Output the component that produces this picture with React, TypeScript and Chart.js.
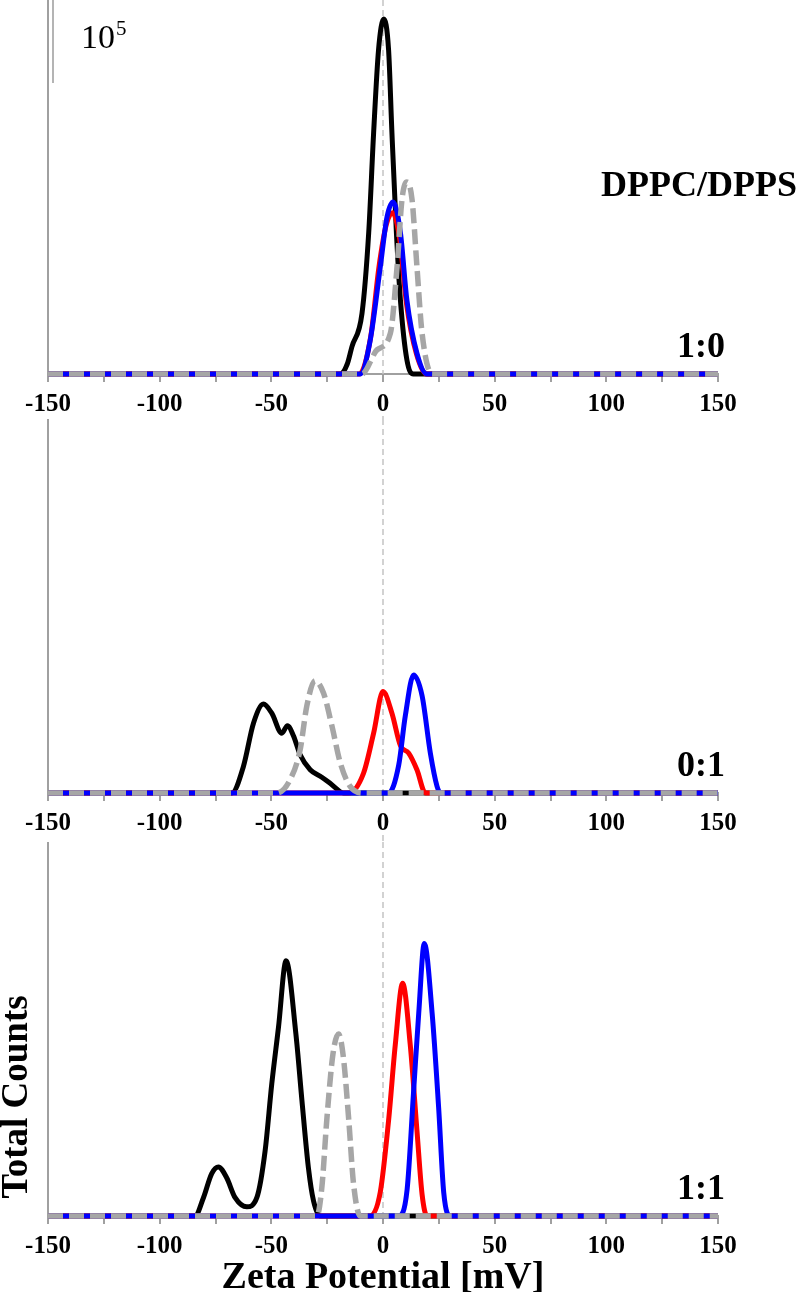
import React, { useEffect, useRef } from 'react';
import { Chart, registerables } from 'chart.js';

Chart.register(...registerables);

type Pt = [number, number];

// Zeta potential (mV) vs total counts (x10^5)
const p1Black: Pt[] = [[-150,0],[-19.1,0],[-16,0.12],[-13.9,0.33],[-9.4,0.73],[-6.4,1.70],[-4.2,2.90],[-2.0,3.90],[0.3,4.27],[2.5,3.90],[4.0,2.90],[6.0,1.70],[7.8,0.89],[10.7,0.17],[13.6,0],[150,0]];
const p1Red: Pt[] = [[-150,0],[-10.5,0],[-5.5,0.45],[-1.8,1.29],[1.5,1.80],[4.3,1.94],[7.5,1.62],[10.5,0.85],[15,0.24],[19.5,0],[150,0]];
const p1Blue: Pt[] = [[-150,0],[-10.2,0],[-5.7,0.41],[-1.2,1.29],[1.8,1.89],[4.5,2.07],[7.8,1.70],[10.7,0.89],[15.2,0.25],[19.7,0],[150,0]];
const p1Gray: Pt[] = [[-150,0],[-9.4,0],[-2.7,0.29],[3.3,0.49],[6.3,1.29],[8.5,2.10],[10.7,2.31],[13,2.10],[15.2,1.29],[17.5,0.49],[22,0],[150,0]];

const p2Black: Pt[] = [[-150,0],[-67.7,0],[-62.5,0.32],[-58,0.84],[-53.5,1.07],[-49.8,0.96],[-45.3,0.72],[-42.8,0.81],[-40.1,0.69],[-37.1,0.46],[-32.6,0.28],[-27.4,0.19],[-22.9,0.10],[-17.7,0],[150,0]];
const p2Red: Pt[] = [[-150,0],[-15.4,0],[-8.7,0.24],[-4.2,0.72],[0,1.22],[4.0,0.96],[7.8,0.57],[11.5,0.48],[15.2,0.28],[19,0],[150,0]];
const p2Blue: Pt[] = [[-150,0],[2.5,0],[7,0.33],[10,0.93],[13.7,1.42],[17.5,1.17],[21.2,0.48],[24.2,0.08],[25.7,0],[150,0]];
const p2Gray: Pt[] = [[-150,0],[-47.5,0],[-41.6,0.16],[-37.1,0.52],[-34.1,1.05],[-30.4,1.35],[-26.6,1.20],[-22.9,0.81],[-19.1,0.36],[-14.7,0.08],[-8.7,0],[150,0]];

const p3Black: Pt[] = [[-150,0],[-84.2,0],[-80.4,0.22],[-76.7,0.51],[-73.7,0.59],[-70,0.46],[-66.2,0.22],[-61,0.11],[-56.5,0.22],[-52.8,0.78],[-49.8,1.59],[-46.8,2.27],[-43.4,3.07],[-39,2.19],[-36.3,1.39],[-33.4,0.58],[-31.1,0.18],[-28.1,0],[150,0]];
const p3Red: Pt[] = [[-150,0],[-5.7,0],[-1.2,0.29],[2.5,1.15],[5.5,2.06],[8.8,2.80],[12.2,2.06],[15.2,1.03],[17.5,0.26],[19.7,0],[150,0]];
const p3Blue: Pt[] = [[-150,0],[7,0],[10.8,0.32],[13.7,1.50],[16,2.44],[18.5,3.28],[22,2.44],[24.9,1.31],[27.2,0.28],[30.2,0],[150,0]];
const p3Gray: Pt[] = [[-150,0],[-29.6,0],[-27.4,0.34],[-25.1,1.18],[-22.4,1.95],[-19.9,2.19],[-17.7,1.90],[-15.4,1.18],[-13.2,0.39],[-10.2,0],[150,0]];

const panelLabels = ['1:0', '0:1', '1:1'];
const xMin = -150;
const xMax = 150;
const xStep = 25;
const xLabelStep = 50;
const yMax = 4.5;
const scaleBarValue = 1; // 10^5 counts

const FONT = "'Liberation Serif', 'Times New Roman', serif";
const AXIS_GRAY = '#a0a0a0';

interface PanelCfg {
  series: Pt[][];
  label: string;
  top: number;
  height: number;
  xScaleH: number;
  first: boolean;
  last: boolean;
}

const panels: PanelCfg[] = [
  { series: [p1Black, p1Red, p1Blue, p1Gray], label: panelLabels[0], top: 0, height: 419, xScaleH: 45, first: true, last: false },
  { series: [p2Black, p2Red, p2Blue, p2Gray], label: panelLabels[1], top: 419, height: 423, xScaleH: 49, first: false, last: false },
  { series: [p3Black, p3Red, p3Blue, p3Gray], label: panelLabels[2], top: 842, height: 450, xScaleH: 76, first: false, last: true },
];

function makeOverlay(cfg: PanelCfg) {
  return {
    id: 'overlay',
    beforeDatasetsDraw(chart: any) {
      const { ctx, chartArea, scales } = chart;
      const x0 = scales.x.getPixelForValue(0);
      ctx.save();
      ctx.strokeStyle = '#c4c4c4';
      ctx.lineWidth = 1.5;
      ctx.setLineDash([6, 4]);
      ctx.beginPath();
      ctx.moveTo(x0, 0);
      ctx.lineTo(x0, chartArea.bottom);
      if (!cfg.last) {
        ctx.moveTo(x0, chartArea.bottom + 42);
        ctx.lineTo(x0, chart.height);
      }
      ctx.stroke();
      ctx.restore();
    },
    afterDatasetsDraw(chart: any) {
      const { ctx, chartArea, scales } = chart;
      ctx.save();
      ctx.fillStyle = '#000';
      ctx.textAlign = 'right';
      ctx.textBaseline = 'alphabetic';
      ctx.font = `bold 36px ${FONT}`;
      ctx.fillText(cfg.label, 725, chartArea.bottom - 17);
      if (cfg.first) {
        ctx.fillText('DPPC/DPPS', 797, 196);
        // scale bar (10^5 counts)
        const yTop = scales.y.getPixelForValue(yMax);
        const yBot = scales.y.getPixelForValue(yMax - scaleBarValue);
        ctx.strokeStyle = '#b4b4b4';
        ctx.lineWidth = 2;
        ctx.beginPath();
        ctx.moveTo(53, yTop);
        ctx.lineTo(53, yBot);
        ctx.stroke();
        ctx.textAlign = 'left';
        ctx.font = `34px ${FONT}`;
        ctx.fillText('10', 81, 48);
        const w = ctx.measureText('10').width;
        ctx.font = `21px ${FONT}`;
        ctx.fillText('5', 81 + w + 1, 35);
      }
      if (cfg.last) {
        ctx.translate(27, 1097 - cfg.top);
        ctx.rotate(-Math.PI / 2);
        ctx.textAlign = 'center';
        ctx.textBaseline = 'alphabetic';
        ctx.font = `bold 37px ${FONT}`;
        ctx.fillText('Total Counts', 0, 0);
      }
      ctx.restore();
    },
  };
}

function Panel({ cfg }: { cfg: PanelCfg }) {
  const ref = useRef<HTMLCanvasElement | null>(null);
  useEffect(() => {
    if (!ref.current) return;
    const colors = ['#000000', '#ff0000', '#0000ff', '#a6a6a6'];
    const orders = [3, 2, 1, 0];
    const datasets = cfg.series.map((s, i) => ({
      data: s.map(([x, y]) => ({ x, y })),
      borderColor: colors[i],
      backgroundColor: colors[i],
      borderWidth: i === 3 ? 5.5 : 5,
      borderDash: i === 3 ? [15, 6] : [],
      pointRadius: 0,
      fill: false,
      cubicInterpolationMode: 'monotone' as const,
      clip: false as const,
      order: orders[i],
    }));
    const chart = new Chart(ref.current, {
      type: 'line',
      data: { datasets },
      plugins: [makeOverlay(cfg)],
      options: {
        animation: false,
        responsive: false,
        events: [],
        layout: { padding: { left: 48, right: 82, top: 0, bottom: 0 } },
        plugins: { legend: { display: false }, tooltip: { enabled: false }, title: { display: false } },
        scales: {
          x: {
            type: 'linear',
            min: xMin,
            max: xMax,
            afterFit: (s: any) => { s.height = cfg.xScaleH; },
            border: { display: true, color: AXIS_GRAY, width: 2 },
            grid: { display: true, drawOnChartArea: false, drawTicks: true, tickLength: 8, color: AXIS_GRAY, lineWidth: 2 },
            ticks: {
              stepSize: xStep,
              autoSkip: false,
              maxRotation: 0,
              padding: 8,
              color: '#000',
              font: { family: FONT, size: 25, weight: 'bold' },
              callback: (v: any) => (Number(v) % xLabelStep === 0 ? String(v) : ''),
            },
            title: cfg.last
              ? { display: true, text: 'Zeta Potential [mV]', color: '#000', font: { family: FONT, size: 38, weight: 'bold', lineHeight: 0.75 }, padding: { top: 0, bottom: 0 } }
              : { display: false },
          },
          y: {
            type: 'linear',
            min: 0,
            max: yMax,
            afterFit: (s: any) => { s.width = 0; },
            border: { display: true, color: AXIS_GRAY, width: 2 },
            grid: { display: false },
            ticks: { display: false },
          },
        },
      } as any,
    });
    return () => chart.destroy();
  }, [cfg]);
  return (
    <canvas
      ref={ref}
      width={800}
      height={cfg.height}
      style={{ position: 'absolute', left: 0, top: cfg.top, width: 800, height: cfg.height, display: 'block' }}
    />
  );
}

export default function App() {
  useEffect(() => {
    document.body.style.margin = '0';
  }, []);
  return (
    <div style={{ position: 'absolute', left: 0, top: 0, width: 800, height: 1292, background: '#fff', overflow: 'hidden' }}>
      {panels.map((p, i) => (
        <Panel key={i} cfg={p} />
      ))}
    </div>
  );
}
